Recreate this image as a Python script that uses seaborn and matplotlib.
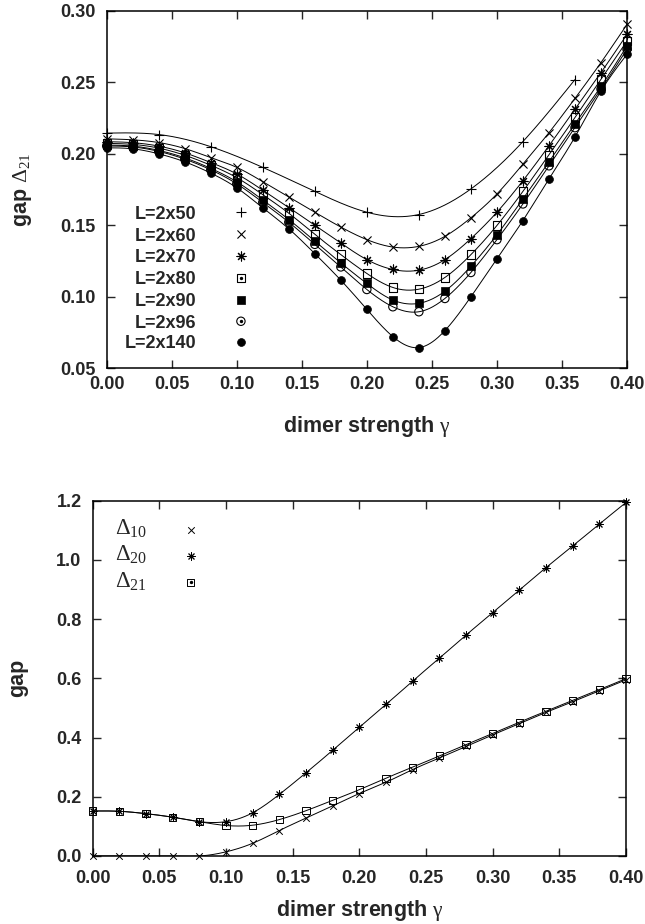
import numpy as np
import pandas as pd
import matplotlib
matplotlib.use("Agg")
import matplotlib.pyplot as plt
import seaborn as sns

# ---------------- data ----------------
# top panel: gap Delta_21 vs dimer strength for several system sizes
x_step2 = [0.00, 0.02, 0.04, 0.06, 0.08, 0.10, 0.12, 0.14, 0.16, 0.18, 0.20,
           0.22, 0.24, 0.26, 0.28, 0.30, 0.32, 0.34, 0.36, 0.38, 0.40]
x_L50 = [0.00, 0.04, 0.08, 0.12, 0.16, 0.20, 0.24, 0.28, 0.32, 0.36]
gap_L50 = [0.2145, 0.2135, 0.2050, 0.1905, 0.1737, 0.1591, 0.1575, 0.1754, 0.2086, 0.2520]
gap_L60 = [0.2105, 0.2098, 0.2079, 0.2037, 0.1974, 0.1905, 0.1805, 0.1698, 0.1591, 0.1487,
           0.1399, 0.1347, 0.1352, 0.1422, 0.1552, 0.1719, 0.1928, 0.2148, 0.2388, 0.2639, 0.2906]
gap_L70 = [0.2085, 0.2078, 0.2054, 0.2007, 0.1939, 0.1859, 0.1745, 0.1624, 0.1500, 0.1375,
           0.1259, 0.1190, 0.1185, 0.1259, 0.1406, 0.1591, 0.1812, 0.2056, 0.2312, 0.2569, 0.2836]
gap_L80 = [0.2073, 0.2066, 0.2040, 0.1990, 0.1920, 0.1833, 0.1714, 0.1584, 0.1436, 0.1294,
           0.1162, 0.1064, 0.1052, 0.1134, 0.1294, 0.1498, 0.1737, 0.1993, 0.2254, 0.2523, 0.2790]
gap_L90 = [0.2061, 0.2054, 0.2024, 0.1972, 0.1898, 0.1804, 0.1677, 0.1540, 0.1389, 0.1236,
           0.1092, 0.0976, 0.0953, 0.1038, 0.1213, 0.1433, 0.1684, 0.1944, 0.2210, 0.2472, 0.2755]
gap_L96 = [0.2055, 0.2048, 0.2017, 0.1963, 0.1888, 0.1790, 0.1660, 0.1521, 0.1366, 0.1208,
           0.1050, 0.0929, 0.0894, 0.0987, 0.1169, 0.1399, 0.1649, 0.1916, 0.2183, 0.2453, 0.2732]
gap_L140 = [0.2042, 0.2035, 0.2000, 0.1944, 0.1865, 0.1762, 0.1622, 0.1475, 0.1301, 0.1115,
            0.0911, 0.0720, 0.0643, 0.0762, 0.0999, 0.1264, 0.1533, 0.1824, 0.2118, 0.2440, 0.2697]
labels_top = ["L=2x50", "L=2x60", "L=2x70", "L=2x80", "L=2x90", "L=2x96", "L=2x140"]

# bottom panel: gaps for L=2x140
gap10 = [0.0, 0.0, 0.0, 0.0, 0.0, 0.014, 0.043, 0.086, 0.128, 0.169, 0.211,
         0.249, 0.292, 0.331, 0.370, 0.409, 0.447, 0.485, 0.521, 0.558, 0.595]
gap20 = [0.152, 0.151, 0.143, 0.131, 0.116, 0.116, 0.146, 0.208, 0.281, 0.357, 0.435,
         0.512, 0.591, 0.668, 0.746, 0.822, 0.898, 0.974, 1.047, 1.121, 1.194]
gap21 = [0.152, 0.151, 0.143, 0.131, 0.116, 0.103, 0.104, 0.123, 0.153, 0.188, 0.224,
         0.263, 0.300, 0.338, 0.376, 0.414, 0.452, 0.489, 0.526, 0.562, 0.599]
labels_bot = [r"$\Delta_{10}$", r"$\Delta_{20}$", r"$\Delta_{21}$"]

xticks = [0.00, 0.05, 0.10, 0.15, 0.20, 0.25, 0.30, 0.35, 0.40]
yticks_top = [0.05, 0.10, 0.15, 0.20, 0.25, 0.30]
yticks_bot = [0.0, 0.2, 0.4, 0.6, 0.8, 1.0, 1.2]


def natural_spline(x, y, n=400):
    """Natural cubic spline through the points (like gnuplot 'smooth csplines')."""
    x = np.asarray(x, float)
    y = np.asarray(y, float)
    m = len(x)
    h = np.diff(x)
    A = np.zeros((m, m))
    b = np.zeros(m)
    A[0, 0] = 1.0
    A[-1, -1] = 1.0
    for i in range(1, m - 1):
        A[i, i - 1] = h[i - 1]
        A[i, i] = 2 * (h[i - 1] + h[i])
        A[i, i + 1] = h[i]
        b[i] = 6 * ((y[i + 1] - y[i]) / h[i] - (y[i] - y[i - 1]) / h[i - 1])
    M = np.linalg.solve(A, b)
    xs = np.linspace(x[0], x[-1], n)
    idx = np.clip(np.searchsorted(x, xs) - 1, 0, m - 2)
    x0, x1 = x[idx], x[idx + 1]
    hh = x1 - x0
    t0 = x1 - xs
    t1 = xs - x0
    ys = (M[idx] * t0 ** 3 / (6 * hh) + M[idx + 1] * t1 ** 3 / (6 * hh)
          + (y[idx] / hh - M[idx] * hh / 6) * t0
          + (y[idx + 1] / hh - M[idx + 1] * hh / 6) * t1)
    return xs, ys


# ---------------- style ----------------
sns.set_theme(style="ticks")
plt.rcParams["font.family"] = ["Liberation Sans", "DejaVu Sans"]
plt.rcParams["mathtext.fontset"] = "custom"
plt.rcParams["mathtext.rm"] = "Liberation Serif"
plt.rcParams["mathtext.it"] = "Liberation Serif:italic"
plt.rcParams["mathtext.bf"] = "Liberation Serif:bold"
plt.rcParams["axes.linewidth"] = 1.1

ASTER = (8, 2, 0)
marker_specs = [
    dict(marker="+", s=48, color="black", linewidths=0.8),
    dict(marker="x", s=34, color="black", linewidths=0.8),
    dict(marker=ASTER, s=42, color="black", linewidths=0.8),
    dict(marker="s", s=36, facecolor="none", edgecolor="black", linewidths=0.8),
    dict(marker="s", s=32, color="black", edgecolor="black", linewidths=0.5),
    dict(marker="o", s=36, facecolor="none", edgecolor="black", linewidths=0.8),
    dict(marker="o", s=32, color="black", edgecolor="black", linewidths=0.5),
]

fig = plt.figure(figsize=(6.45, 9.24), dpi=100)
ax1 = fig.add_axes([0.1654, 0.6017, 0.8067, 0.3864])
ax2 = fig.add_axes([0.1437, 0.0736, 0.8268, 0.3845])


def style_axes(ax, yticks, yfmt, xpad):
    ax.set_xlim(0.0, 0.40)
    ax.set_xticks(xticks)
    ax.set_xticklabels([f"{v:.2f}" for v in xticks])
    ax.set_yticks(yticks)
    ax.set_yticklabels([yfmt.format(v) for v in yticks])
    ax.tick_params(direction="in", length=6, width=1.0, top=True, right=True,
                   labelsize=13)
    ax.tick_params(axis="x", pad=xpad)
    ax.tick_params(axis="y", pad=8)
    for lab in ax.get_xticklabels() + ax.get_yticklabels():
        lab.set_fontweight("bold")
    for sp in ax.spines.values():
        sp.set_visible(True)
        sp.set_color("black")
        sp.set_linewidth(1.1)


# ---------------- top panel ----------------
top_series = [(x_L50, gap_L50), (x_step2, gap_L60), (x_step2, gap_L70), (x_step2, gap_L80),
              (x_step2, gap_L90), (x_step2, gap_L96), (x_step2, gap_L140)]
for (xv, yv), spec in zip(top_series, marker_specs):
    xs, ys = natural_spline(xv, yv)
    sns.lineplot(x=xs, y=ys, ax=ax1, color="black", linewidth=0.7, estimator=None,
                 sort=False, legend=False)
    sns.scatterplot(x=xv, y=yv, ax=ax1, legend=False, clip_on=False, zorder=3, **spec)

ax1.set_ylim(0.05, 0.30)
style_axes(ax1, yticks_top, "{:.2f}", xpad=6)
ax1.set_xlabel(r"dimer strength $\mathrm{\gamma}$", fontsize=15.5, fontweight="bold", labelpad=15)
ax1.set_ylabel(r"gap $\Delta_{21}$", fontsize=15.5, fontweight="bold", labelpad=19)

# legend (gnuplot style: right-aligned text, marker to the right)
leg_y = [0.436, 0.374, 0.314, 0.253, 0.191, 0.131, 0.073]
for lab, spec, yy in zip(labels_top, marker_specs, leg_y):
    ax1.text(0.173, yy, lab, transform=ax1.transAxes, ha="right", va="center_baseline",
             fontsize=13, fontweight="bold")
    ax1.scatter([0.258], [yy], transform=ax1.transAxes, clip_on=False, zorder=4, **spec)
    if spec["marker"] in ("s", "o") and spec.get("facecolor") == "none":
        ax1.scatter([0.258], [yy], transform=ax1.transAxes, marker="o", s=2,
                    color="black", zorder=5, clip_on=False)

# ---------------- bottom panel ----------------
bot_specs = [
    dict(marker="x", s=22, color="black", linewidths=0.7),
    dict(marker=ASTER, s=28, color="black", linewidths=0.7),
    dict(marker="s", s=26, facecolor="none", edgecolor="black", linewidths=0.7),
]
for yv, spec in zip([gap10, gap20, gap21], bot_specs):
    xs, ys = natural_spline(x_step2, yv)
    sns.lineplot(x=xs, y=ys, ax=ax2, color="black", linewidth=0.7, estimator=None,
                 sort=False, legend=False)
    sns.scatterplot(x=x_step2, y=yv, ax=ax2, legend=False, clip_on=False, zorder=3, **spec)

ax2.set_ylim(0.0, 1.2)
style_axes(ax2, yticks_bot, "{:.1f}", xpad=10)
ax2.set_xlabel(r"dimer strength $\mathrm{\gamma}$", fontsize=15.5, fontweight="bold", labelpad=8)
ax2.set_ylabel("gap", fontsize=15.5, fontweight="bold", labelpad=20)

leg2_marker_y = [0.9175, 0.8443, 0.7701]
for lab, spec, yy in zip(labels_bot, bot_specs, leg2_marker_y):
    ax2.text(0.042, yy - 0.014, lab, transform=ax2.transAxes, ha="left", va="baseline",
             fontsize=16.5)
    ax2.scatter([0.184], [yy], transform=ax2.transAxes, clip_on=False, zorder=4, **spec)
    if spec["marker"] == "s":
        ax2.scatter([0.184], [yy], transform=ax2.transAxes, marker="o", s=2,
                    color="black", zorder=5, clip_on=False)

fig.savefig("out.png", dpi=100)
